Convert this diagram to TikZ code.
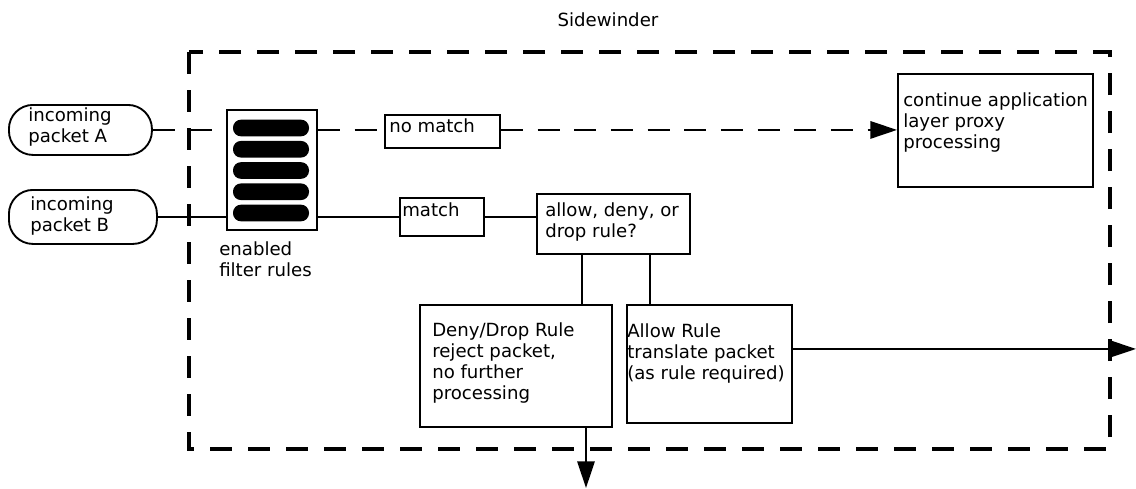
\documentclass[tikz,border=0pt]{standalone}
\usepackage{fontspec}
\setmainfont{DejaVu Sans}
\usetikzlibrary{positioning, arrows.meta, calc}
\tikzset{
  box/.style={draw, line width=1.4pt, inner sep=0pt, anchor=north west},
  packet/.style={box, rounded corners=18pt},
  boxtext/.style={inner sep=0pt, anchor=north west, align=left, font=\fontsize{13.6}{15.75}\selectfont},
  bar/.style={fill=black, rounded corners=6pt, minimum width=57pt, minimum height=12.5pt, inner sep=0pt},
  frame/.style={line width=2.7pt, dash pattern=on 16.5pt off 12pt},
  flow/.style={line width=1.5pt},
  noflow/.style={flow, line width=1.7pt, dash pattern=on 16.5pt off 11pt},
  tip/.style={-{Triangle[length=20pt, width=13pt]}}
}

\begin{document}
\begin{tikzpicture}[x=0.75pt, y=-0.75pt]
    \useasboundingbox (0,0) rectangle (1136,489);
    \node[font=\fontsize{13.6}{15.75}\selectfont] (title) at (608,20) {Sidewinder};
    \draw[frame] (189,52) rectangle (1110,449);

    \node[packet, minimum width=107.25pt, minimum height=37.5pt] (pktA) at (8,104) {};
    \node[boxtext] (pktAtext) at ([shift={(20,3)}]pktA.north west) {incoming\\packet A};
    \node[packet, minimum width=111pt, minimum height=40.5pt] (pktB) at (8,189) {};
    \node[boxtext] (pktBtext) at ([shift={(22,7)}]pktB.north west) {incoming\\packet B};

    \node[box, minimum width=67.5pt, minimum height=90pt] (rules) at (226,109) {};
    \foreach \i in {0,...,4}
      \node[bar] (bar\i) at (271,{128+21.25*\i}) {};
    \node[boxtext] (rulestext) at (219,241) {enabled\\filter rules};

    \node[box, minimum width=86.25pt, minimum height=24.75pt] (nomatch) at (384,114) {};
    \node[boxtext] (nomatchtext) at ([shift={(5,4)}]nomatch.north west) {no match};
    \node[box, minimum width=146.25pt, minimum height=84.75pt] (cont) at (897,73) {};
    \node[boxtext] (conttext) at ([shift={(6,19)}]cont.north west) {continue application\\layer proxy\\processing};

    \node[box, minimum width=63pt, minimum height=28.5pt] (match) at (399,197) {};
    \node[boxtext] (matchtext) at ([shift={(3,5)}]match.north west) {match};
    \node[box, minimum width=114.75pt, minimum height=45pt] (choice) at (536,193) {};
    \node[boxtext] (choicetext) at ([shift={(9,9)}]choice.north west) {allow, deny, or\\drop rule?};

    \node[box, minimum width=144pt, minimum height=91.5pt] (deny) at (419,304) {};
    \node[boxtext] (denytext) at ([shift={(13,18)}]deny.north west) {Deny/Drop Rule\\reject packet,\\no further\\processing};
    \node[box, minimum width=123.75pt, minimum height=88.5pt] (allow) at (626,304) {};
    \node[boxtext] (allowtext) at ([shift={(1,19)}]allow.north west) {Allow Rule\\translate packet\\(as rule required)};

    \coordinate (exitdeny) at (586,488);
    \coordinate (exitallow) at (1136,348);

    \draw[noflow] (pktA.east) -- (pktA.east -| rules.west);
    \draw[noflow] (pktA.east -| rules.east) -- (pktA.east -| nomatch.west);
    \draw[noflow, tip] (pktA.east -| nomatch.east) -- (pktA.east -| cont.west);

    \draw[flow] (pktB.east) -- (pktB.east -| rules.west);
    \draw[flow] (match.west -| rules.east) -- (match.west);
    \draw[flow] (match.east) -- (match.east -| choice.west);
    \draw[flow] ([xshift=-23.6pt]choice.south) -- ([xshift=-23.6pt]choice.south |- deny.north);
    \draw[flow] ([xshift=27.4pt]choice.south) -- ([xshift=27.4pt]choice.south |- allow.north);
    \draw[flow, tip] ([xshift=53.25pt]deny.south) -- (deny.south -| exitdeny) -- (exitdeny);
    \draw[flow, tip] ([yshift=11.25pt]allow.east) -- ([yshift=11.25pt]allow.east -| exitallow);
\end{tikzpicture}
\end{document}
